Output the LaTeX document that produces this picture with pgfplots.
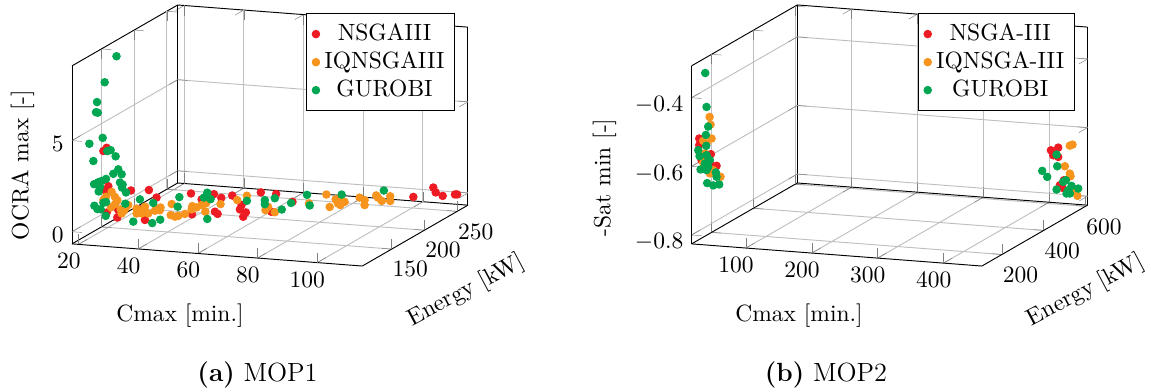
\documentclass[border=0pt]{standalone}
\usepackage{pgfplots}
\pgfplotsset{compat=1.18}
\definecolor{cred}{RGB}{237,28,36}
\definecolor{corange}{RGB}{247,148,29}
\definecolor{cgreen}{RGB}{0,166,81}
\pgfplotsset{
  base/.style={
    view={20}{20}, scale only axis, width=168.5pt, height=111.1pt,
    grid=major, clip=false,
    legend cell align=center,
    legend style={at={(axis description cs:0.968,0.968)},anchor=north east,inner xsep=2.3pt,inner ysep=2.3pt,/tikz/row sep=-0.7pt},
    legend image code/.code={\draw[##1] plot coordinates {(0cm,0cm)};},
  },
  cr/.style={only marks,mark=*,mark size=1.6pt,color=cred},
  co/.style={only marks,mark=*,mark size=1.6pt,color=corange},
  cg/.style={only marks,mark=*,mark size=1.6pt,color=cgreen},
}
\begin{document}
\begin{tikzpicture}
\path[use as bounding box] (0,0) rectangle (489.8pt,166.4pt);
\begin{axis}[base, at={(30.64pt,53.19pt)}, anchor=south west,
  xmin=17.8,xmax=115.1,ymin=105,ymax=266.5,zmin=-0.67,zmax=9.1,
  xtick={20,40,60,80,100},ytick={150,200,250},ztick={0,5},
  xlabel={Cmax [min.]},ylabel={Energy [kW]},zlabel={OCRA max [-]},
  every axis x label/.style={at={(axis description cs:0.2727,-0.1916)},anchor=center},
  every axis y label/.style={at={(axis description cs:0.995,-0.095)},anchor=center,rotate=28},
  every axis z label/.style={at={(axis description cs:-0.125,0.387)},anchor=center,rotate=90},
]
\addplot3[cr] coordinates {
(24.77,121.15,4.18)(25.88,121.15,4.37)(26.44,121.15,2.27)(25.43,121.15,2.03)(34.02,121.15,2.13)(40.04,121.15,2.23)(42.60,121.15,1.85)(29.45,121.15,0.59)(29.78,121.15,1.00)(38.70,121.15,0.57)(25.88,121.15,0.81)(38.14,121.15,1.19)
(47.06,153.45,1.46)(54.75,153.45,1.52)(57.21,153.45,1.35)(60.89,153.45,1.52)(70.47,153.45,1.81)(75.60,153.45,1.79)(50.63,153.45,1.18)(55.09,153.45,0.56)(55.98,153.45,0.45)(47.40,153.45,0.32)(63.45,153.45,0.79)(64.56,153.45,0.40)(65.45,153.45,0.65)(64.01,153.45,1.04)(74.05,153.45,0.79)(81.07,153.45,1.43)
(100.33,250.4,-0.07)(107.02,250.4,0.53)(107.82,250.4,0.27)(110.16,250.4,0.11)(114.27,250.4,0.24)(115.0,250.4,0.25)
};
\addlegendentry{NSGAIII}
\addplot3[co] coordinates {
(25.66,121.15,1.68)(27.55,121.15,1.97)(28.67,121.15,1.71)(29.45,121.15,1.54)(27.33,121.15,1.12)(31.68,121.15,0.99)(30.90,121.15,0.83)(33.13,121.15,1.32)(35.91,121.15,1.16)(35.91,121.15,0.89)(37.58,121.15,0.91)(38.70,121.15,1.30)(39.81,121.15,0.94)(42.60,121.15,1.25)(43.94,121.15,1.32)(43.72,121.15,1.17)(24.77,121.15,1.49)(28.67,121.15,1.31)(30.56,121.15,1.05)(32.35,121.15,1.18)(37.03,121.15,1.06)(42.04,121.15,1.12)
(40.60,153.45,0.80)(40.26,153.45,0.19)(41.71,153.45,0.12)(42.83,153.45,0.18)(45.06,153.45,0.31)(47.51,153.45,0.77)(47.29,153.45,0.59)(48.96,153.45,0.72)(50.63,153.45,0.87)(52.08,153.45,0.98)(51.86,153.45,0.52)(56.98,153.45,1.00)(62.56,153.45,1.29)(65.79,153.45,1.57)(72.03,153.45,0.86)(75.15,153.45,0.78)(72.91,153.45,1.05)(86.62,153.45,1.41)(92.44,153.45,1.97)(93.55,153.45,1.30)(95.55,153.45,1.74)(96.32,153.45,1.53)(97.12,153.45,1.45)(98.56,153.45,1.64)(96.89,153.45,1.80)(103.57,153.45,1.94)(105.25,153.45,1.82)(105.25,153.45,1.55)(109.16,153.45,2.13)(109.70,153.45,2.02)(111.03,153.45,1.85)(113.84,153.45,2.14)(113.84,153.45,1.88)
};
\addlegendentry{IQNSGAIII}
\addplot3[cg] coordinates {
(22.09,153.45,8.68)(25.21,121.15,7.96)(22.65,121.15,6.84)(22.31,121.15,6.28)(22.87,121.15,6.26)(24.54,121.15,4.90)(20.08,121.15,4.52)(26.10,121.15,4.19)(27.22,121.15,4.26)(28.89,121.15,3.94)(21.42,121.15,3.59)(29.78,121.15,3.24)(28.11,121.15,2.97)(30.90,121.15,2.98)(25.66,121.15,2.66)(24.21,121.15,2.53)(23.09,121.15,2.45)(21.64,121.15,2.32)(30.34,121.15,2.52)(31.23,121.15,2.42)(31.01,121.15,2.25)(23.65,121.15,2.20)(23.20,121.15,1.94)(32.35,121.15,2.00)(25.66,121.15,1.39)(24.77,121.15,1.34)(21.76,121.15,1.14)(22.76,121.15,0.97)(23.87,121.15,0.97)(25.55,121.15,0.63)(32.12,121.15,1.38)(37.03,121.15,1.68)(41.49,121.15,1.54)(34.80,121.15,0.43)(41.15,121.15,0.43)(43.83,121.15,0.65)
(43.16,153.45,1.21)(42.60,153.45,0.68)(52.52,153.45,0.13)(52.52,153.45,1.57)(51.41,153.45,1.29)(53.64,153.45,1.23)(65.79,153.45,1.29)(71.81,153.45,1.40)(71.81,153.45,1.18)(75.15,153.45,1.55)(80.60,153.45,1.36)(77.49,153.45,0.96)(85.95,153.45,1.87)(86.86,153.45,1.30)(97.56,153.45,2.03)(111.70,153.45,2.43)
};
\addlegendentry{GUROBI}
\end{axis}
\begin{axis}[base, at={(294.3pt,53.19pt)}, anchor=south west,
  xmin=17.5,xmax=458.2,ymin=104,ymax=610,zmin=-0.826,zmax=-0.307,
  xtick={100,200,300,400},ytick={200,400,600},ztick={-0.8,-0.6,-0.4},
  zticklabel style={/pgf/number format/fixed,/pgf/number format/fixed zerofill,/pgf/number format/precision=1},
  xlabel={Cmax [min.]},ylabel={Energy [kW]},zlabel={-Sat min [-]},
  every axis x label/.style={at={(axis description cs:0.2714,-0.19)},anchor=center},
  every axis y label/.style={at={(axis description cs:0.995,-0.095)},anchor=center,rotate=28},
  every axis z label/.style={at={(axis description cs:-0.22,0.34)},anchor=center,rotate=90},
]
\addplot3[cr] coordinates {
(21.1,129.3,-0.5272)(21.1,129.3,-0.5466)(38.8,129.3,-0.5702)(47.4,129.3,-0.6028)(24.6,129.3,-0.5896)(37.3,129.3,-0.5975)(22.1,129.3,-0.5706)
(410.6,584.7,-0.6642)(421.7,584.7,-0.6548)(414.1,584.7,-0.6782)(421.7,584.7,-0.6819)(424.2,584.7,-0.7639)(428.2,584.7,-0.7710)(430.3,584.7,-0.7485)
};
\addlegendentry{NSGA-III}
\addplot3[co] coordinates {
(36.8,129.3,-0.4620)(38.3,129.3,-0.4840)(39.8,129.3,-0.5244)(27.2,129.3,-0.5331)(29.7,129.3,-0.5695)(27.2,129.3,-0.5961)(53.4,129.3,-0.6340)(37.3,129.3,-0.6266)(42.3,129.3,-0.6162)(32.2,129.3,-0.5401)
(439.3,584.7,-0.6464)(443.4,584.7,-0.6429)(431.8,584.7,-0.7076)(439.3,584.7,-0.7278)(440.4,584.7,-0.7354)(444.4,584.7,-0.7804)(450.9,584.7,-0.7910)
};
\addlegendentry{IQNSGA-III}
\addplot3[cg] coordinates {
(30.2,129.3,-0.3349)(32.2,129.3,-0.4335)(34.7,129.3,-0.4904)(31.2,129.3,-0.5151)(31.7,129.3,-0.5470)(19.6,129.3,-0.5614)(21.6,129.3,-0.5785)(32.2,129.3,-0.5740)(37.3,129.3,-0.5878)(23.1,129.3,-0.6171)(32.2,129.3,-0.6176)(34.7,129.3,-0.6076)(46.3,129.3,-0.6224)(47.4,129.3,-0.6348)(51.4,129.3,-0.6566)(42.3,129.3,-0.6608)(33.2,129.3,-0.6553)(29.7,129.3,-0.5986)
(419.2,584.7,-0.6755)(420.2,584.7,-0.7093)(397.4,584.7,-0.7261)(405.0,584.7,-0.7425)(433.3,584.7,-0.7481)(429.2,584.7,-0.7535)(419.2,584.7,-0.7773)(441.9,584.7,-0.7633)(452.0,584.7,-0.7696)(434.3,584.7,-0.7867)(439.3,584.7,-0.7859)(436.8,584.7,-0.7766)
};
\addlegendentry{GUROBI}
\end{axis}
\node[anchor=center,inner sep=0pt] at (109.6pt,6.9pt) {\fontsize{11.2}{13}\selectfont\textbf{(a)} MOP1};
\node[anchor=center,inner sep=0pt] at (351.5pt,6.9pt) {\fontsize{11.2}{13}\selectfont\textbf{(b)} MOP2};
\end{tikzpicture}
\end{document}
